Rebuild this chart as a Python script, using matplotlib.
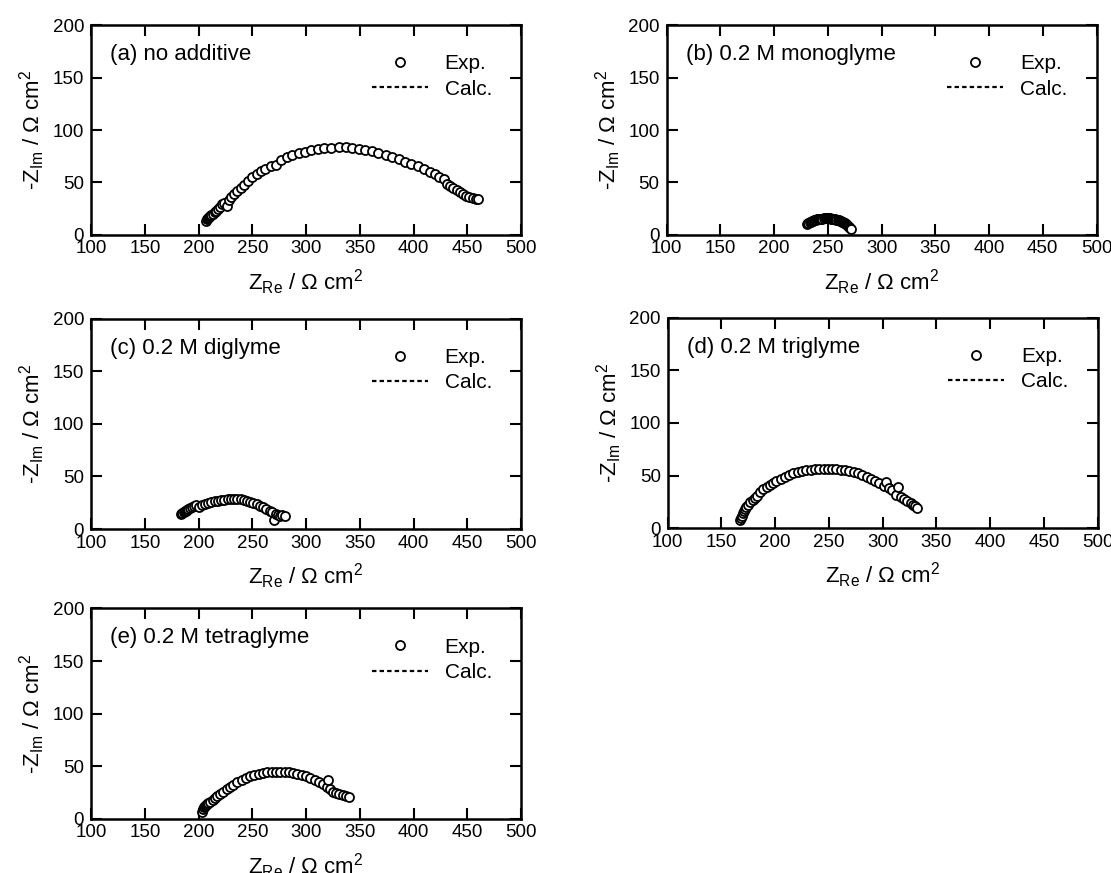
import matplotlib
matplotlib.use("Agg")
import matplotlib.pyplot as plt

plt.rcParams['font.family'] = ['Liberation Sans', 'DejaVu Sans']
plt.rcParams['mathtext.fontset'] = 'custom'
plt.rcParams['mathtext.rm'] = 'Liberation Sans'
plt.rcParams['mathtext.it'] = 'Liberation Sans'

titles = ['(a) no additive', '(b) 0.2 M monoglyme', '(c) 0.2 M diglyme',
          '(d) 0.2 M triglyme', '(e) 0.2 M tetraglyme']

# (a) no additive
a_x = [207, 208, 209, 210, 211, 212, 213, 215, 216, 218, 220, 222, 224, 226, 228, 230, 233, 236,
       239, 242, 246, 250, 254, 258, 262, 267, 272, 277, 282, 287, 293, 299, 305, 311, 317, 323,
       331, 337, 343, 349, 355, 361, 367, 374, 380, 386, 392, 398, 404, 410, 415, 420, 424, 428,
       431, 434, 437, 440, 443, 446, 449, 452, 455, 458, 460]
a_y = [13, 15, 16, 17, 18, 19, 20, 22, 23, 25, 27, 29, 30, 28, 33, 36, 39, 42,
       45, 48, 51, 55, 58, 61, 63, 66, 67, 71, 74, 76, 78, 79, 81, 82, 83, 83,
       84, 84, 83, 82, 81, 80, 78, 76, 74, 72, 70, 68, 66, 63, 60, 58, 55, 53,
       49, 47, 45, 43, 41, 39, 37, 36, 35, 34, 34]
a_cx = [207, 215, 225, 240, 260, 280, 300, 320, 340, 360, 380, 400, 420, 440, 460]
a_cy = [13, 22, 32, 46, 61, 72, 79, 82, 82, 79, 74, 66, 55, 43, 34]

# (b) 0.2 M monoglyme
b_x = [231, 232, 233, 234, 235, 236, 237, 238, 239, 240, 241, 242, 243, 244, 245, 246, 247, 248,
       249, 250, 251, 252, 253, 254, 255, 256, 257, 258, 259, 260, 261, 262, 263, 264, 265, 266,
       267, 268, 269, 270, 271, 272]
b_y = [10, 11, 12, 12.5, 13, 13.5, 14, 14, 14.5, 15, 15, 15, 15.5, 15.5, 15.5, 16, 16, 16,
       16, 16, 16, 16, 15.5, 15.5, 15.5, 15, 15, 14.5, 14, 14, 13.5, 13, 12.5, 12, 11.5, 11,
       10, 9, 8.5, 7.5, 6.5, 5.5]
b_cx = [231, 236, 242, 248, 254, 260, 265, 270, 272]
b_cy = [10, 13.5, 15.3, 16, 15.5, 14, 11.5, 7.5, 5.5]

# (c) 0.2 M diglyme
c_x = [184, 185, 186, 187, 188, 189, 190, 192, 194, 196, 198, 200, 203, 206, 209, 212, 215, 218,
       221, 224, 227, 230, 233, 236, 239, 242, 245, 248, 251, 254, 257, 260, 263, 266, 268, 270,
       272, 274, 276, 278, 280]
c_y = [14, 15, 16, 17, 17.5, 18, 19, 20, 21, 22, 23, 21, 23, 24, 25, 26, 26.5, 27,
       27.5, 28, 28.5, 29, 29, 29, 28.5, 28, 27, 26, 25, 24, 22, 21, 19, 17, 16, 9,
       14, 13, 12, 13, 12]
c_cx = [184, 192, 200, 212, 224, 236, 248, 260, 270, 280]
c_cy = [14, 19, 22, 26, 28, 29, 26.5, 21, 16, 12]

# (d) 0.2 M triglyme
d_x = [167, 168, 169, 170, 171, 172, 173, 175, 177, 179, 181, 183, 186, 189, 192, 195, 198, 201,
       205, 209, 213, 217, 221, 225, 229, 233, 237, 241, 245, 249, 253, 257, 261, 265, 269, 273,
       277, 281, 285, 289, 293, 297, 301, 303, 306, 309, 312, 314, 317, 320, 323, 326, 328, 330,
       332]
d_y = [8, 10, 12, 14, 16, 18, 20, 22, 25, 27, 29, 31, 34, 37, 39, 41, 43, 45,
       47, 49, 50.5, 52, 53, 54, 55, 55.5, 56, 56, 56.5, 56.5, 56, 56, 55.5, 55, 54, 53,
       52, 51, 49, 47, 45, 43, 40, 44, 38, 36, 32, 39, 30, 28, 26, 24, 22, 21,
       19]
d_cx = [167, 175, 185, 200, 215, 230, 245, 260, 275, 290, 305, 320, 332]
d_cy = [8, 22, 33, 44, 51, 55, 56.5, 56, 52.5, 47, 39, 28, 19]

# (e) 0.2 M tetraglyme
e_x = [203, 204, 205, 206, 207, 208, 209, 211, 213, 215, 217, 220, 223, 226, 229, 232, 236, 240,
       244, 248, 252, 256, 260, 264, 268, 272, 276, 280, 284, 288, 292, 296, 300, 304, 308, 312,
       316, 319, 320, 322, 325, 328, 331, 334, 337, 340]
e_y = [7, 9, 11, 12, 13, 14, 15, 16, 18, 20, 22, 24, 26, 28, 30, 32, 35, 37,
       39, 41, 42, 43, 44, 44.5, 45, 45, 45, 45, 44.5, 44, 43, 42, 40.5, 39, 37, 35,
       33, 30, 37, 28, 26, 25, 24, 23, 22, 21]
e_cx = [203, 210, 220, 235, 250, 265, 280, 295, 310, 325, 340]
e_cy = [7, 15, 24, 34, 41, 44.5, 45, 42.5, 36, 26, 21]

exp_x = [a_x, b_x, c_x, d_x, e_x]
exp_y = [a_y, b_y, c_y, d_y, e_y]
calc_x = [a_cx, b_cx, c_cx, d_cx, e_cx]
calc_y = [a_cy, b_cy, c_cy, d_cy, e_cy]

fig = plt.figure(figsize=(11.11, 8.73), dpi=100)
positions = [[0.082, 0.731, 0.387, 0.240],
             [0.600, 0.731, 0.387, 0.240],
             [0.082, 0.394, 0.387, 0.241],
             [0.601, 0.395, 0.387, 0.241],
             [0.082, 0.062, 0.387, 0.241]]

for i in range(5):
    ax = fig.add_axes(positions[i])
    ax.plot(calc_x[i], calc_y[i], color='black', linestyle=(0, (2, 1.4)), lw=1.6, label='Calc.', zorder=2)
    ax.plot(exp_x[i], exp_y[i], 'o', mfc='white', mec='black', ms=6.5, mew=1.3, label='Exp.', zorder=3)
    ax.set_xlim(100, 500)
    ax.set_ylim(0, 200)
    ax.set_xticks([100, 150, 200, 250, 300, 350, 400, 450, 500])
    ax.set_yticks([0, 50, 100, 150, 200])
    ax.tick_params(direction='in', top=True, right=True, length=8, width=1.5, labelsize=13.5)
    ax.tick_params(axis='x', pad=4)
    ax.tick_params(axis='y', pad=5)
    for s in ax.spines.values():
        s.set_linewidth(1.8)
    ax.set_xlabel('Z$_{\\mathregular{Re}}$ / Ω cm$^{\\mathregular{2}}$', fontsize=16, labelpad=7)
    ax.set_ylabel('-Z$_{\\mathregular{Im}}$ / Ω cm$^{\\mathregular{2}}$', fontsize=16, labelpad=4)
    ax.text(0.044, 0.86, titles[i], transform=ax.transAxes, fontsize=16, va='center')
    h, l = ax.get_legend_handles_labels()
    ax.legend([h[1], h[0]], [l[1], l[0]], loc='upper right', frameon=False, fontsize=15,
              handlelength=2.7, handletextpad=0.8, borderaxespad=1.0, labelspacing=0.3)

fig.savefig('out.png', dpi=100)
